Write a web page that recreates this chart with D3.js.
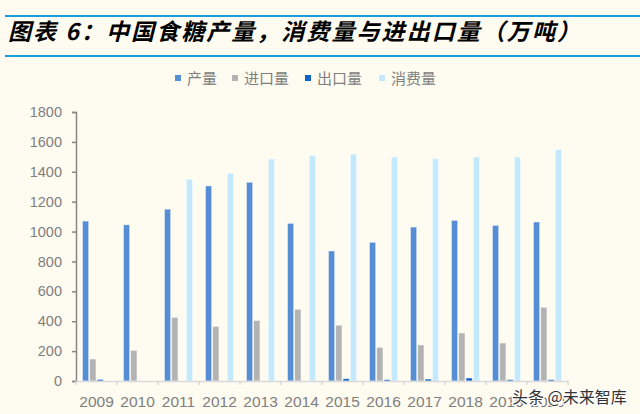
<!DOCTYPE html>
<html><head><meta charset="utf-8">
<script src="https://cdn.jsdelivr.net/npm/d3@7/dist/d3.min.js"></script>
<style>
html,body{margin:0;padding:0;background:#fefbf0;}
svg{display:block;}
</style></head>
<body><svg id="c" width="640" height="414"></svg>
<script>
const years = ["2009","2010","2011","2012","2013","2014","2015","2016","2017","2018","2019","2020"];
const seriesNames = ["产量","进口量","出口量","消费量"];
const production = [1070,1045,1150,1305,1330,1055,870,928,1030,1075,1041,1064];
const imports    = [147,205,426,365,405,480,373,225,241,321,254,493];
const exports    = [10,0,0,0,0,0,15,9,13,20,9,9];
const consumption= [0,0,1350,1390,1485,1510,1519,1499,1487,1499,1499,1548];
const yTicks = [0,200,400,600,800,1000,1200,1400,1600,1800];
const colors = ["#558ed5","#b3b3b3","#0e62c8","#c4e9fc"];
const titleText = "图表 6：中国食糖产量，消费量与进出口量（万吨）";
const watermark = "头条 @未来智库";

const seriesData = [production, imports, exports, consumption];
const svg = d3.select("#c");
svg.append("rect").attr("width",640).attr("height",414).attr("fill","#fefbf0");

// title
svg.append("line").attr("x1",5).attr("x2",640).attr("y1",16).attr("y2",16).attr("stroke","#1a9be0").attr("stroke-width",2);
svg.append("line").attr("x1",5).attr("x2",640).attr("y1",56).attr("y2",56).attr("stroke","#1a9be0").attr("stroke-width",2);
svg.append("text").attr("x",8).attr("y",40)
  .attr("font-family","Noto Sans CJK SC").attr("font-weight","bold").attr("font-style","italic")
  .attr("font-size",23).attr("letter-spacing","2px").attr("fill","#000")
  .attr("textLength",574).attr("lengthAdjust","spacingAndGlyphs")
  .text(titleText);

// legend
const legendX = [175,232,305,379];
const lg = svg.append("g");
seriesNames.forEach((n,i)=>{
  lg.append("rect").attr("x",legendX[i]).attr("y",75).attr("width",6).attr("height",6).attr("fill",colors[i]);
  lg.append("text").attr("x",legendX[i]+12).attr("y",84)
    .attr("font-family","Noto Sans CJK SC").attr("font-size",15).attr("fill","#808080").text(n);
});

const x = d3.scaleBand().domain(years).range([76,568]);
const xi = d3.scaleBand().domain(seriesNames).range([6.5,34.5]).paddingInner(0.15);
const y = d3.scaleLinear().domain([0,1800]).range([381,112]);

// bars
seriesNames.forEach((n,si)=>{
  svg.append("g").selectAll("rect").data(years).join("rect")
    .attr("x",(d)=>x(d)+xi(n))
    .attr("width",xi.bandwidth())
    .attr("y",(d,i)=>y(seriesData[si][i]))
    .attr("height",(d,i)=>y(0)-y(seriesData[si][i]))
    .attr("fill",colors[si])
    .attr("stroke","#ffffff").attr("stroke-width",0.6).attr("stroke-opacity",0.7);
});

// y axis
const ya = svg.append("g").attr("transform","translate(76,0)")
  .call(d3.axisLeft(y).tickValues(yTicks).tickSize(4).tickPadding(10).tickFormat(d3.format("d")));
ya.select(".domain").attr("stroke","#868686").attr("stroke-width",1.5);
ya.selectAll(".tick line").attr("stroke","#868686").attr("stroke-width",1.5);
ya.selectAll("text").attr("font-family","Liberation Sans").attr("font-size",14.5).attr("fill","#7f7f7f");

// x axis
const xa = svg.append("g").attr("transform","translate(0,381)")
  .call(d3.axisBottom(x).tickSize(0).tickPadding(15));
xa.select(".domain").attr("stroke","#d9d9d9").attr("stroke-width",1.5);
xa.selectAll("text").attr("font-family","Liberation Sans").attr("font-size",15.5).attr("fill","#7f7f7f");
const bounds = years.map(d=>x(d)).concat([x.range()[1]]);
xa.append("g").selectAll("line").data(bounds).join("line")
  .attr("x1",d=>d).attr("x2",d=>d).attr("y1",0).attr("y2",4)
  .attr("stroke","#d9d9d9").attr("stroke-width",1.5);

// watermark
svg.append("text").attr("x",512).attr("y",403)
  .attr("font-family","Noto Sans CJK SC").attr("font-size",16)
  .attr("fill","#333").attr("stroke","#ffffff").attr("stroke-width",2.5).attr("paint-order","stroke")
  .text(watermark);
</script></body></html>
